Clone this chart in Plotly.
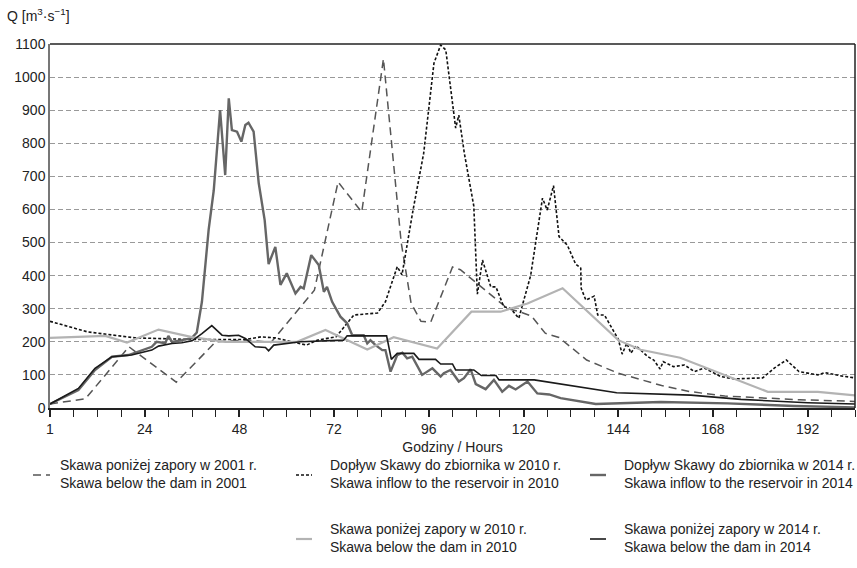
import plotly.graph_objects as go

# ---- data (hours from start, discharge m3/s) ----
h_2001_below = [0, 9, 20, 32, 42, 50, 56, 67, 73, 79, 84.5, 89, 91.5, 94, 96.5, 102, 104, 108,
                116, 119, 122, 125.5, 129, 136, 144, 155, 162, 171, 190, 204]
q_2001_below = [12, 28, 185, 78, 200, 205, 198, 356, 683, 592, 1055, 500, 317, 262, 260, 426, 418, 378,
                300, 291, 278, 226, 213, 145, 105, 68, 50, 36, 25, 20]

h_2010_inflow = [0, 9.5, 21.5, 36, 49.5, 53.5, 57, 65, 67.7, 72.5, 77, 79.5, 83, 85, 88, 89.2, 92, 94.7,
                 97.3, 99, 100.3, 102.8, 103.6, 105, 107.4, 108.3, 109.6, 111.7, 113, 115, 116.8, 118.8,
                 121.8, 124.8, 126, 127.6, 129, 131.1, 133.2, 134.5, 134.6, 135.8, 137.9, 138.8, 140.5,
                 144, 145, 146.2, 147.2, 148.5, 151.5, 153, 154.6, 155.4, 158, 160.8, 163.3, 165.8, 170,
                 173.4, 180.6, 183.6, 186.6, 189.8, 194.6, 196.3, 200.5, 204]
q_2010_inflow = [262, 230, 212, 207, 207, 215, 212, 190, 205, 215, 281, 283, 287, 321, 427, 402, 598, 770,
                 1042, 1097, 1082, 846, 885, 770, 610, 344, 447, 366, 366, 306, 300, 271,
                 400, 634, 598, 672, 518, 492, 435, 423, 362, 326, 338, 281, 281,
                 208, 163, 196, 166, 188, 155, 145, 118, 140, 125, 130, 110, 121, 95,
                 88, 91, 121, 145, 110, 100, 107, 97, 91]

h_2014_inflow = [0, 7.2, 11.4, 15.7, 19.9, 22.4, 25.8, 27, 29.2, 30, 30.9, 33.4, 35.9, 37.2, 38.5, 40.2,
                 41.5, 43.1, 44.4, 45.3, 46.1, 47.4, 48.5, 49.5, 50.3, 51.6, 52.9, 54.4, 55.4, 57.1,
                 58.4, 60, 62.2, 63.5, 64.3, 66.2, 68.1, 69.4, 70.2, 71.5, 73.6, 75.3, 76.6, 79.5,
                 80.4, 81.2, 82.5, 84.2, 85, 86.3, 88, 89.3, 90.5, 91.8, 94.3, 96.9, 99, 99.8, 101.5,
                 103.6, 104.9, 106.6, 107.9, 110.4, 112.5, 114.6, 116.3, 118, 121, 123.5, 126.5,
                 129.4, 134, 138.3, 154.8, 171.7, 188.6, 204]
q_2014_inflow = [12, 54, 115, 155, 160, 170, 185, 200, 196, 218, 200, 205, 211, 228, 321, 538,
                 658, 900, 704, 936, 840, 835, 805, 855, 862, 835, 679, 568, 435, 487,
                 372, 407, 346, 366, 361, 462, 432, 351, 366, 321, 276, 256, 220, 220,
                 195, 205, 190, 175, 175, 110, 160, 167, 150, 155, 100, 120, 95, 105, 115,
                 80, 90, 117, 72, 57, 85, 49, 67, 56, 80, 44, 41,
                 30, 21, 12, 18, 14, 6, 2]

h_2010_below = [0, 14, 19.5, 27.5, 36, 44.4, 62.6, 69.8, 80.4, 87.1, 98.1, 102.8, 106.8, 114.2, 121,
                129.9, 144, 149.7, 159.7, 181.9, 194.6, 204]
q_2010_below = [212, 218, 198, 237, 214, 200, 200, 236, 177, 214, 180, 241, 291, 291, 316,
                362, 205, 176, 152, 49, 49, 38]

h_2014_below = [0, 7.2, 11.4, 15.7, 20.7, 24.1, 25.8, 27.5, 30.9, 33.4, 36, 38.5, 41, 43.6, 45.3, 47.8,
                49.5, 52, 54.6, 55.4, 56.7, 63.5, 74.4, 75.3, 85.3, 86.5, 88, 92.2, 93.5, 97.7, 99, 102,
                102.8, 107.4, 109.3, 113, 113.8, 122.7, 134.5, 143.6, 162.4, 175.1, 192, 204]
q_2014_below = [12, 59, 120, 155, 160, 170, 175, 187, 195, 197, 203, 225, 249, 220, 218, 220,
                210, 185, 183, 173, 190, 200, 205, 218, 218, 147, 165, 165, 147, 147, 133, 133,
                115, 115, 98, 98, 85, 85, 63, 46, 39, 26, 16, 12]

x_tickvals = [0, 24, 48, 72, 96, 120, 144, 168, 192]
x_ticktext = ["1", "24", "48", "72", "96", "120", "144", "168", "192"]

legend_text = [
    "Skawa poniżej zapory w 2001 r.<br>Skawa below the dam in 2001",
    "Dopływ Skawy do zbiornika w 2010 r.<br>Skawa inflow to the reservoir in 2010",
    "Dopływ Skawy do zbiornika w 2014 r.<br>Skawa inflow to the reservoir in 2014",
    "Skawa poniżej zapory w 2010 r.<br>Skawa below the dam in 2010",
    "Skawa poniżej zapory w 2014 r.<br>Skawa below the dam in 2014",
]

# ---- styles ----
FONT = "Liberation Sans, Arial, sans-serif"
styles = [
    dict(color="#555555", width=1.5, dash="8px,5px"),
    dict(color="#111111", width=1.6, dash="3px,2px"),
    dict(color="#666666", width=2.4, dash="solid"),
    dict(color="#b3b3b3", width=2.2, dash="solid"),
    dict(color="#1a1a1a", width=1.6, dash="solid"),
]
series = [
    (h_2001_below, q_2001_below),
    (h_2010_inflow, q_2010_inflow),
    (h_2014_inflow, q_2014_inflow),
    (h_2010_below, q_2010_below),
    (h_2014_below, q_2014_below),
]

fig = go.Figure()
for (hx, qy), st, name in zip(series, styles, legend_text):
    fig.add_trace(go.Scatter(x=hx, y=qy, mode="lines", line=st, name=name.split("<br>")[1],
                             showlegend=False, hoverinfo="skip"))

W, H = 857, 568
L, R, T, B = 50, 2, 44, 160
pw, ph = W - L - R, H - T - B


def px(xp):
    return (xp - L) / pw


def py(yp):
    return (H - B - yp) / ph


shapes = [
    dict(type="line", xref="paper", yref="paper", x0=0, x1=1, y0=1, y1=1,
         line=dict(color="#222", width=1.5)),
    dict(type="line", xref="paper", yref="paper", x0=1, x1=1, y0=0, y1=1,
         line=dict(color="#222", width=1.5)),
]
annotations = [
    dict(xref="paper", yref="paper", x=px(5), y=py(15), xanchor="left", yanchor="middle",
         text="Q [m<sup>3</sup>·s<sup>−1</sup>]", showarrow=False,
         font=dict(family=FONT, size=14, color="#222")),
]

# legend: (symbol x0, x1, symbol y, text x, text y)
leg_pos = [
    (33, 50, 475, 58, 474),
    (296, 312, 475, 328, 474),
    (590, 606, 475, 622, 474),
    (296, 312, 539, 328, 538),
    (590, 606, 539, 622, 538),
]
for (sx0, sx1, sy, tx, ty), st, txt in zip(leg_pos, styles, legend_text):
    shapes.append(dict(type="line", xref="paper", yref="paper", x0=px(sx0), x1=px(sx1),
                       y0=py(sy), y1=py(sy),
                       line=dict(color=st["color"], width=st["width"], dash=st["dash"])))
    annotations.append(dict(xref="paper", yref="paper", x=px(tx), y=py(ty), xanchor="left",
                            yanchor="middle", align="left", text=txt, showarrow=False,
                            font=dict(family=FONT, size=14, color="#222")))

fig.update_layout(
    width=W, height=H,
    margin=dict(l=L, r=R, t=T, b=B),
    paper_bgcolor="white", plot_bgcolor="white",
    font=dict(family=FONT, size=14, color="#222"),
    shapes=shapes, annotations=annotations,
    showlegend=False,
)
fig.update_xaxes(
    range=[0, 204], tickvals=x_tickvals, ticktext=x_ticktext,
    showgrid=False, zeroline=False, showline=True, linecolor="#222", linewidth=1.5,
    ticks="outside", ticklen=7, tickcolor="#222", tickwidth=1.5,
    minor=dict(dtick=6, tick0=0, ticks="outside", ticklen=7, tickcolor="#222", tickwidth=1),
    tickfont=dict(family=FONT, size=14, color="#222"),
    title=dict(text="Godziny / Hours", font=dict(family=FONT, size=14, color="#222"), standoff=7),
)
fig.update_yaxes(
    range=[0, 1100], dtick=100, tick0=0,
    showgrid=True, gridcolor="#999", griddash="5px,3px", gridwidth=1,
    zeroline=False, showline=True, linecolor="#777", linewidth=1.5, ticks="",
    tickfont=dict(family=FONT, size=14, color="#222"),
)

fig.write_html("out.html")
